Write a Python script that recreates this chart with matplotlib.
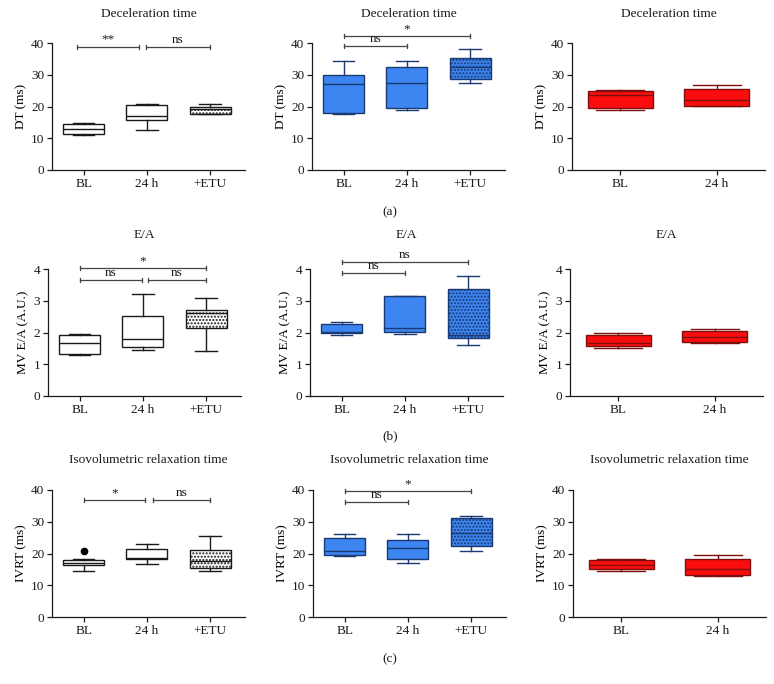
"""Echo parameters (DT, E/A, IVRT) box plots, three groups per row."""

import matplotlib

matplotlib.use("Agg")
import matplotlib.pyplot as plt  # noqa: E402

plt.rcParams["font.family"] = ["Liberation Serif", "DejaVu Serif"]
plt.rcParams["hatch.linewidth"] = 1.0

W, H = 774, 684
INK = "#1a1a1a"
BLUE, BLUE_EDGE = "#3d85f0", "#1b3a74"
RED, RED_EDGE = "#fb0d0d", "#7e0f0f"
BRACKET = "#444444"

GROUPS3 = ["BL", "24 h", "+ETU"]
GROUPS2 = ["BL", "24 h"]

# five-number summaries per group: (whisker low, Q1, median, Q3, whisker high)
DT_WHITE = [(11.1, 11.3, 12.9, 14.6, 14.9), (12.7, 15.6, 17.0, 20.4, 20.9),
            (17.5, 17.5, 19.3, 19.7, 20.8)]
DT_BLUE = [(17.7, 18.1, 27.0, 29.9, 34.2), (18.8, 19.6, 27.3, 32.5, 34.2),
           (27.5, 28.7, 32.5, 35.3, 38.1)]
DT_RED = [(18.9, 19.4, 23.6, 24.9, 25.3), (20.2, 20.2, 21.9, 25.4, 26.8)]

EA_WHITE = [(1.29, 1.32, 1.66, 1.93, 1.96), (1.46, 1.53, 1.81, 2.53, 3.20),
            (1.43, 2.14, 2.62, 2.72, 3.10)]
EA_BLUE = [(1.93, 1.98, 2.02, 2.26, 2.33), (1.96, 2.02, 2.15, 3.14, 3.14),
           (1.60, 1.82, 1.92, 3.37, 3.77)]
EA_RED = [(1.50, 1.56, 1.66, 1.93, 2.00), (1.66, 1.71, 1.87, 2.06, 2.12)]

IVRT_WHITE = [(14.6, 16.4, 17.1, 18.0, 18.4), (16.8, 18.4, 18.7, 21.3, 23.1),
              (14.6, 15.4, 17.7, 21.2, 25.4)]
IVRT_WHITE_OUTLIERS = [[20.7], [], []]
IVRT_BLUE = [(19.1, 19.5, 20.8, 25.0, 26.2), (16.9, 18.4, 21.8, 24.1, 26.2),
             (20.9, 22.5, 26.4, 31.1, 31.7)]
IVRT_RED = [(14.5, 15.1, 16.4, 17.9, 18.4), (12.9, 13.3, 15.2, 18.4, 19.6)]

# significance brackets: (from x, to x, height, label)
DT_WHITE_SIG = [(0.9, 1.88, 38.8, "**"), (1.98, 3.0, 38.8, "ns")]
DT_BLUE_SIG = [(1, 2, 39.0, "ns"), (1, 3, 42.2, "*")]
EA_WHITE_SIG = [(1, 3, 4.03, "*"), (1, 1.98, 3.66, "ns"), (2.08, 3, 3.66, "ns")]
EA_BLUE_SIG = [(1, 2, 3.88, "ns"), (1, 3, 4.22, "ns")]
IVRT_WHITE_SIG = [(1, 1.97, 36.8, "*"), (2.1, 3, 36.8, "ns")]
IVRT_BLUE_SIG = [(1, 2, 36.1, "ns"), (1, 3, 39.7, "*")]


def stats_for(summary, outliers=None):
    out = []
    for i, (lo, q1, med, q3, hi) in enumerate(summary):
        out.append({"whislo": lo, "q1": q1, "med": med, "q3": q3, "whishi": hi,
                    "fliers": outliers[i] if outliers else []})
    return out


def draw_panel(ax, summary, groups, face, edge, ymax, ylabel,
               sig=(), outliers=None, hatch_last=False):
    n = len(groups)
    pos = list(range(1, n + 1))
    width = 0.65 if n == 3 else 0.67
    art = ax.bxp(stats_for(summary, outliers), positions=pos, widths=width,
                 patch_artist=True, capwidths=0.34 if n == 3 else 0.5,
                 boxprops=dict(facecolor=face, edgecolor=edge, lw=1.0),
                 medianprops=dict(color=edge, lw=1.0),
                 whiskerprops=dict(color=edge, lw=1.0),
                 capprops=dict(color=edge, lw=1.0),
                 flierprops=dict(marker="o", markerfacecolor="black",
                                 markeredgecolor="black", markersize=4.5))
    if hatch_last:
        art["boxes"][-1].set_hatch(".....")

    ax.set_xlim(0.5, 3.55 if n == 3 else 2.5)
    ax.set_ylim(0, ymax)
    ax.set_yticks([ymax * k / 4 for k in range(5)])
    ax.set_xticks(pos)
    ax.set_xticklabels(groups)
    ax.set_ylabel(ylabel, fontsize=9.5, labelpad=3)
    for s in ("top", "right"):
        ax.spines[s].set_visible(False)
    for s in ("left", "bottom"):
        ax.spines[s].set_linewidth(0.9)
        ax.spines[s].set_color(INK)
    ax.tick_params(direction="out", length=3.5, width=0.9, labelsize=9.5,
                   colors=INK, pad=2)

    d = ymax * 0.016
    for x0, x1, y, label in sig:
        ax.plot([x0, x1], [y, y], color=BRACKET, lw=0.9, clip_on=False)
        for x in (x0, x1):
            ax.plot([x, x], [y - d, y + d], color=BRACKET, lw=0.9, clip_on=False)
        ax.text((x0 + x1) / 2, y + d * 0.5, label, ha="center", va="bottom",
                fontsize=9.5, color=INK, clip_on=False)


def main() -> None:
    fig = plt.figure(figsize=(W / 100, H / 100), dpi=100)

    col_left = [[52, 312, 572], [48, 310, 570], [52, 313, 573]]
    row_top = [43, 269, 490]
    aw, ah = 193, 127
    title_y = [14, 235, 460]
    titles = ["Deceleration time", "E/A", "Isovolumetric relaxation time"]
    ylabels = ["DT (ms)", "MV E/A (A.U.)", "IVRT (ms)"]
    ymaxes = [40, 4, 40]
    panels = [
        [(DT_WHITE, DT_WHITE_SIG, None), (DT_BLUE, DT_BLUE_SIG, None), (DT_RED, (), None)],
        [(EA_WHITE, EA_WHITE_SIG, None), (EA_BLUE, EA_BLUE_SIG, None), (EA_RED, (), None)],
        [(IVRT_WHITE, IVRT_WHITE_SIG, IVRT_WHITE_OUTLIERS), (IVRT_BLUE, IVRT_BLUE_SIG, None),
         (IVRT_RED, (), None)],
    ]
    styles = [("white", INK, GROUPS3, True), (BLUE, BLUE_EDGE, GROUPS3, True),
              (RED, RED_EDGE, GROUPS2, False)]

    for r in range(3):
        for c in range(3):
            left = col_left[r][c]
            ax = fig.add_axes([left / W, 1 - (row_top[r] + ah) / H, aw / W, ah / H])
            summary, sig, outl = panels[r][c]
            face, edge, groups, hatch = styles[c]
            draw_panel(ax, summary, groups, face, edge, ymaxes[r], ylabels[r],
                       sig=sig, outliers=outl, hatch_last=hatch)
            fig.text((left + aw / 2) / W, 1 - title_y[r] / H, titles[r],
                     ha="center", va="center", fontsize=9.6, color=INK)

    for label, y in zip(["(a)", "(b)", "(c)"], [212, 436, 659]):
        fig.text(390 / W, 1 - y / H, label, ha="center", va="center",
                 fontsize=9.5, color=INK)

    fig.savefig("out.png", dpi=100)
    plt.close(fig)


if __name__ == "__main__":
    main()
